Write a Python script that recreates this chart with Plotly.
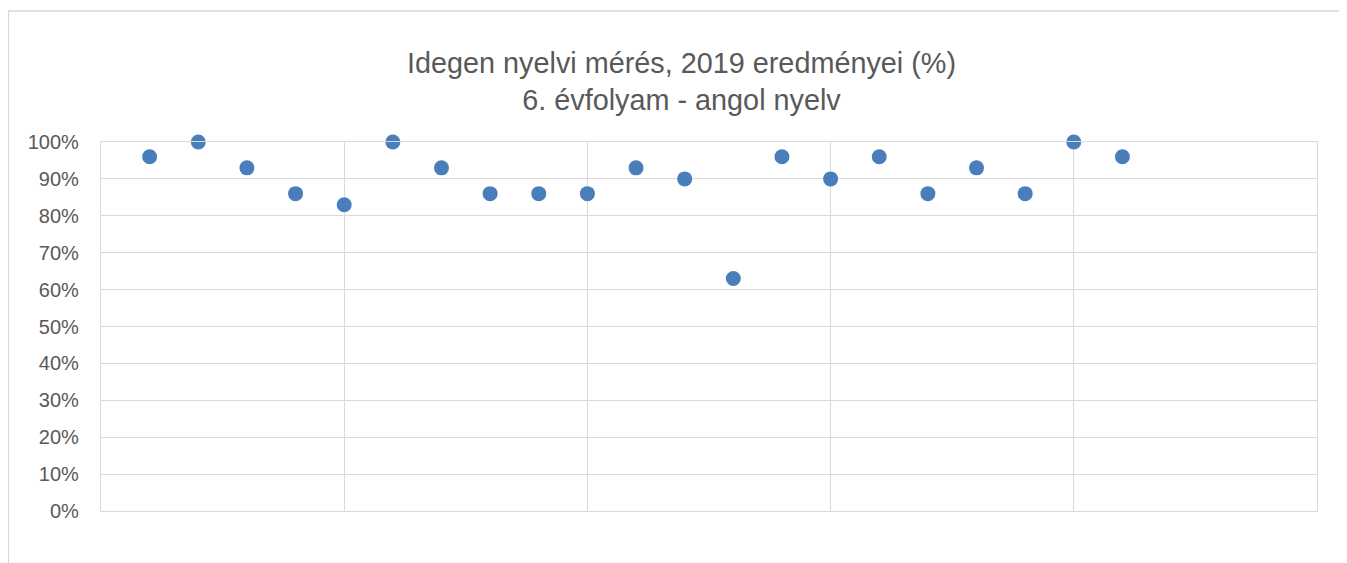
import plotly.graph_objects as go

x_vals = list(range(1, 22))
y_vals = [0.96, 1.00, 0.93, 0.86, 0.83, 1.00, 0.93, 0.86, 0.86, 0.86, 0.93,
          0.90, 0.63, 0.96, 0.90, 0.96, 0.86, 0.93, 0.86, 1.00, 0.96]
title_text = "Idegen nyelvi mérés, 2019 eredményei (%)<br>6. évfolyam - angol nyelv"

W, H = 1347, 563
OFF = 8  # page body margin
L, R, T, B = 101 - OFF, 1317 - OFF, 142 - OFF, 511 - OFF
pw, ph = R - L, B - T

fig = go.Figure()
fig.add_trace(go.Scatter(
    x=x_vals, y=y_vals, mode="markers",
    marker=dict(size=15, color="#4A7EBB", line=dict(width=0)),
    showlegend=False, cliponaxis=False,
))

grid = "#D9D9D9"
fig.update_layout(
    width=W, height=H,
    margin=dict(l=L, r=W - R, t=T, b=H - B, pad=0),
    paper_bgcolor="white", plot_bgcolor="white",
    font=dict(family="Liberation Sans, Arial, sans-serif", color="#595959"),
    title=dict(text=title_text, x=0.5, xanchor="center", xref="container",
               yref="container", y=1 - (72.5 - OFF) / H, yanchor="middle",
               font=dict(size=28.8, color="#595959")),
    xaxis=dict(range=[0, 25], dtick=5, tick0=0, showticklabels=False,
               showgrid=True, gridcolor=grid, gridwidth=1.3,
               showline=True, linecolor=grid, linewidth=1.3, mirror=True,
               zeroline=False, ticks=""),
    yaxis=dict(range=[0, 1], dtick=0.1, tick0=0, tickformat=".0%",
               showgrid=True, gridcolor=grid, gridwidth=1.3,
               showline=True, linecolor=grid, linewidth=1.3, mirror=True,
               zeroline=False, ticks="", ticklabelstandoff=17,
               tickfont=dict(size=20, color="#595959")),
    shapes=[
        dict(type="line", xref="paper", yref="paper",
             x0=(8 - OFF - L) / pw, x1=(W + 5 - L) / pw,
             y0=(B - (11 - OFF)) / ph, y1=(B - (11 - OFF)) / ph,
             line=dict(color="#D9D9D9", width=1.3)),
        dict(type="line", xref="paper", yref="paper",
             x0=(8.5 - OFF - L) / pw, x1=(8.5 - OFF - L) / pw,
             y0=(B - (11 - OFF)) / ph, y1=(B - H - 5) / ph,
             line=dict(color="#D9D9D9", width=1.3)),
    ],
)

fig.write_html("out.html")
